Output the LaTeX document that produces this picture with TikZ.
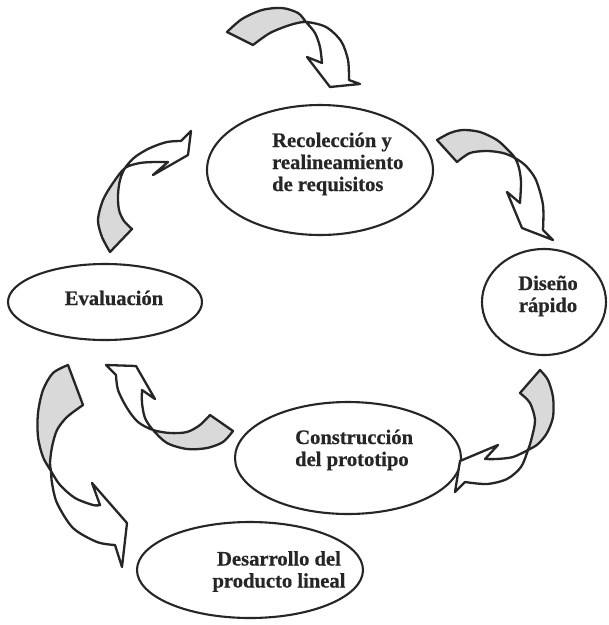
\documentclass[tikz,border=0pt]{standalone}
\usepackage{fontspec}
\setmainfont{Liberation Serif}[BoldFeatures={FakeBold=0.6}]
\usetikzlibrary{shapes.geometric}
\definecolor{ink}{HTML}{262626}
\definecolor{ribbon}{HTML}{D9D9D9}

% Twisted ribbon arrows: each outline runs tail -> one edge -> head -> other edge -> tail;
% the two edges cross once, so the tail lobe shows the shaded back face.
\newcommand\bandA{(227,32) -- plot[smooth] coordinates {(227,32) (242,19) (262,10) (282,8) (298,13) (306,22) (315,33) (320,47) (322,63)}
  -- (307,57) -- (330,87) -- (360,84) -- (349,80)
  -- plot[smooth] coordinates {(349,80) (348,60) (341,41) (326,27) (306,22) (290,25) (270,33) (253,45)} -- cycle}
\newcommand\bandB{(437,140) -- plot[smooth] coordinates {(437,140) (450,133) (463,130) (480,132) (497,140) (508,150) (515,158) (519,168) (521,182) (520,203)}
  -- (507,192) -- (522,228) -- (553,240) -- (543,230)
  -- plot[smooth] coordinates {(543,230) (543,205) (536,180) (526,166) (515,158) (503,153) (487,151) (470,153) (457,162)} -- cycle}
\newcommand\bandC{(540,370) -- plot[smooth] coordinates {(540,370) (548,380) (553,397) (553,417) (547,433) (538,444) (528,450) (513,457) (497,459) (485,459)}
  -- (498,445) -- (460,461) -- (455,492) -- (465,482)
  -- plot[smooth] coordinates {(465,482) (487,484) (507,479) (521,467) (528,450) (532,437) (535,420) (530,403) (520,393)} -- cycle}
\newcommand\bandD{(210,415) -- plot[smooth] coordinates {(210,415) (200,425) (187,432) (170,433) (153,430) (138,422) (127,408) (118,390) (116,375)}
  -- (106,365) -- (136,366) -- (155,399) -- (142,390)
  -- plot[smooth] coordinates {(142,390) (142,403) (145,418) (153,430) (167,443) (187,449) (207,448) (223,442) (233,431)} -- cycle}
\newcommand\bandE{(110,252) -- plot[smooth] coordinates {(110,252) (102,237) (98,220) (103,200) (113,183) (125,168) (140,163) (155,162) (168,162)}
  -- (153,175) -- (188,155) -- (191,131) -- (181,141)
  -- plot[smooth] coordinates {(181,141) (167,142) (150,148) (135,157) (125,168) (120,180) (118,195) (119,210) (124,221) (132,229)} -- cycle}
\newcommand\bandF{(68,365) -- plot[smooth] coordinates {(68,365) (53,373) (43,390) (38,413) (38,437) (43,457) (51,471) (60,485) (75,498) (93,505) (100,505)}
  -- (92,483) -- (127,523) -- (122,567) -- (115,545)
  -- plot[smooth] coordinates {(115,545) (97,542) (73,528) (57,503) (52,483) (51,471) (50,463) (52,447) (57,430) (67,417) (83,405)} -- cycle}

\begin{document}
\begin{tikzpicture}[x=1pt,y=-1pt,
  stage/.style={draw=ink, line width=2.1pt, ellipse, inner sep=0pt},
  caption/.style={text=ink, font=\bfseries\fontsize{20.6}{22}\selectfont, inner sep=0pt},
  bandline/.style={draw=ink, line width=2.3pt, line join=round},
  backface/.style={fill=ribbon}]
\useasboundingbox[fill=white] (0,0) rectangle (609,625);

% process stages
\node[stage, minimum width=226pt, minimum height=130pt] (e1) at (320,170) {};
\node[stage, minimum width=124pt, minimum height=106pt] (e2) at (544,302) {};
\node[stage, minimum width=194pt, minimum height=76pt]  (e3) at (105,302) {};
\node[stage, minimum width=226pt, minimum height=112pt] (e4) at (348,458) {};
\node[stage, minimum width=226pt, minimum height=96pt]  (e5) at (250,570) {};

% stage names (the base anchor sits on the last line)
\node[caption, anchor=base west, align=left] (t1) at (272,191) {Recolección y\\realineamiento\\de requisitos};
\node[caption, anchor=base, align=center] (t2) at (548,312) {Diseño\\rápido};
\node[caption, anchor=base] (t3) at (114,305) {Evaluación};
\node[caption, anchor=base west, align=left] (t4) at (295,466) {Construcción\\del prototipo};
\node[caption, anchor=base, align=center] (t5) at (279,587.5) {Desarrollo del\\producto lineal};

% ribbon arrows
\fill[white] \bandA;
\begin{scope} \clip (0,0) rectangle (306,200); \fill[backface] \bandA; \end{scope}
\draw[bandline] \bandA;

\fill[white] \bandB;
\begin{scope} \clip (400,0) rectangle (515,175); \fill[backface] \bandB; \end{scope}
\draw[bandline] \bandB;

\fill[white] \bandC;
\begin{scope} \clip (518,300) rectangle (700,450); \fill[backface] \bandC; \end{scope}
\draw[bandline] \bandC;

\fill[white] \bandD;
\begin{scope} \clip (150,440) -- (150,425) -- (165,405) -- (300,405) -- (300,470) -- (150,470) -- cycle; \fill[backface] \bandD; \end{scope}
\draw[bandline] \bandD;

\fill[white] \bandE;
\begin{scope} \clip (0,167) rectangle (145,300); \fill[backface] \bandE; \end{scope}
\draw[bandline] \bandE;

\fill[white] \bandF;
\begin{scope} \clip (0,300) rectangle (120,471); \fill[backface] \bandF; \end{scope}
\draw[bandline] \bandF;
\end{tikzpicture}
\end{document}
